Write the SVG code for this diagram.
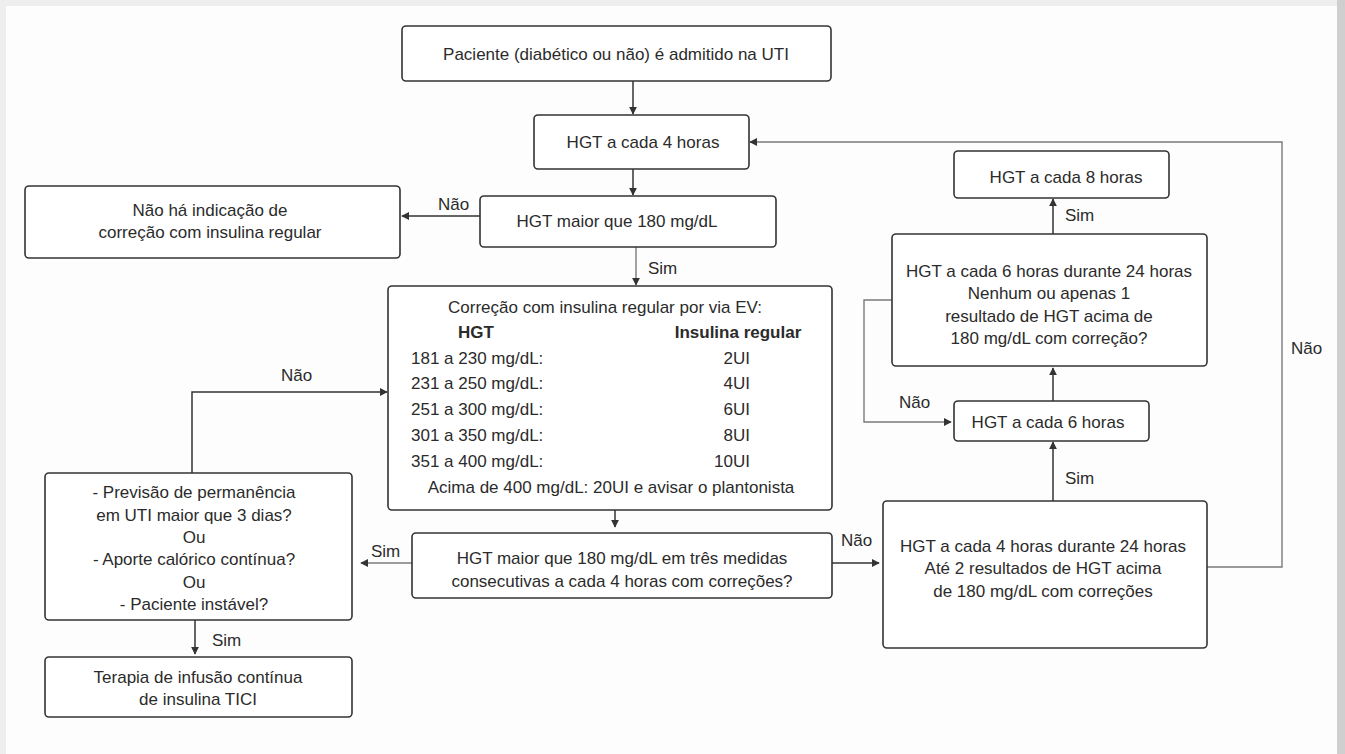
<svg xmlns="http://www.w3.org/2000/svg" width="1345" height="754" viewBox="0 0 1345 754">
<defs>
<style>
.box{fill:#ffffff;stroke:#333333;stroke-width:1.6}
.t{font-family:"Liberation Sans",Arial,sans-serif;font-size:17px;fill:#2b2b2b;text-anchor:middle}
.l{text-anchor:start}
.e{text-anchor:end}
.b{font-weight:bold}
.c{fill:none;stroke:#333333;stroke-width:1.5}
.g{fill:none;stroke:#7a7a7a;stroke-width:1.4}
.lab{font-family:"Liberation Sans",Arial,sans-serif;font-size:17px;fill:#2b2b2b}
</style>
<marker id="ah" viewBox="0 0 10 10" refX="9" refY="5" markerWidth="8" markerHeight="8" markerUnits="userSpaceOnUse" orient="auto">
<path d="M0,0 L10,5 L0,10 z" fill="#333333"/>
</marker>
</defs>
<rect x="0" y="0" width="1345" height="754" fill="#eeeeee"/>
<rect x="6" y="6" width="1331" height="748" fill="#fdfdfd"/>
<rect x="1337" y="0" width="8" height="754" fill="#cfcfcf"/>

<g id="connectors">
<path class="c" d="M633,81 V114" marker-end="url(#ah)"/>
<path class="c" d="M633,169 V195" marker-end="url(#ah)"/>
<path class="c" d="M480,216 H402" marker-end="url(#ah)"/>
<path class="g" d="M636,247 V285" marker-end="url(#ah)"/>
<path class="c" d="M615,510 V527" marker-end="url(#ah)"/>
<path class="g" d="M412,563 H361" marker-end="url(#ah)"/>
<path class="c" d="M832,563 H879" marker-end="url(#ah)"/>
<path class="c" d="M192,473 V392 H387" marker-end="url(#ah)"/>
<path class="c" d="M195,620 V654" marker-end="url(#ah)"/>
<path class="c" d="M1053,501 V442" marker-end="url(#ah)"/>
<path class="c" d="M1053,401 V368" marker-end="url(#ah)"/>
<path class="c" d="M1053,234 V199" marker-end="url(#ah)"/>
<path class="g" d="M892,300 H864 V422 H951" marker-end="url(#ah)"/>
<path class="g" d="M1207,567 H1282 V142 H750" marker-end="url(#ah)"/>
<text class="lab" x="438" y="210">Não</text>
<text class="lab" x="648" y="274">Sim</text>
<text class="lab" x="281" y="381">Não</text>
<text class="lab" x="371" y="557">Sim</text>
<text class="lab" x="212" y="646">Sim</text>
<text class="lab" x="841" y="546">Não</text>
<text class="lab" x="1065" y="484">Sim</text>
<text class="lab" x="899" y="408">Não</text>
<text class="lab" x="1065" y="221">Sim</text>
<text class="lab" x="1291" y="354">Não</text>
</g>

<g id="n-admitido">
<rect class="box" x="402" y="26" width="429" height="55" rx="4"/>
<text class="t" x="616" y="60">Paciente (diabético ou não) é admitido na UTI</text>
</g>
<g id="n-hgt4">
<rect class="box" x="534" y="115" width="215" height="54" rx="4"/>
<text class="t" x="643" y="148">HGT a cada 4 horas</text>
</g>
<g id="n-maior180">
<rect class="box" x="480" y="196" width="296" height="51" rx="4"/>
<text class="t" x="617" y="227">HGT maior que 180 mg/dL</text>
</g>
<g id="n-naoha">
<rect class="box" x="25" y="186" width="375" height="72" rx="4"/>
<text class="t" x="210" y="216">Não há indicação de</text>
<text class="t" x="210" y="238">correção com insulina regular</text>
</g>
<g id="n-correcao">
<rect class="box" x="388" y="286" width="444" height="224" rx="4"/>
<text class="t" x="605" y="313">Correção com insulina regular por via EV:</text>
<text class="t b" x="476" y="338">HGT</text>
<text class="t b" x="738" y="338">Insulina regular</text>
<text class="t l" x="411" y="364">181 a 230 mg/dL:</text>
<text class="t l" x="411" y="389">231 a 250 mg/dL:</text>
<text class="t l" x="411" y="415">251 a 300 mg/dL:</text>
<text class="t l" x="411" y="441">301 a 350 mg/dL:</text>
<text class="t l" x="411" y="467">351 a 400 mg/dL:</text>
<text class="t e" x="750" y="364">2UI</text>
<text class="t e" x="750" y="389">4UI</text>
<text class="t e" x="750" y="415">6UI</text>
<text class="t e" x="750" y="441">8UI</text>
<text class="t e" x="750" y="467">10UI</text>
<text class="t" x="611" y="493">Acima de 400 mg/dL: 20UI e avisar o plantonista</text>
</g>
<g id="n-tres">
<rect class="box" x="412" y="533" width="420" height="65" rx="4"/>
<text class="t" x="622" y="564">HGT maior que 180 mg/dL em três medidas</text>
<text class="t" x="622" y="587">consecutivas a cada 4 horas com correções?</text>
</g>
<g id="n-previsao">
<rect class="box" x="45" y="473" width="307" height="147" rx="4"/>
<text class="t" x="194" y="498">- Previsão de permanência</text>
<text class="t" x="194" y="521">em UTI maior que 3 dias?</text>
<text class="t" x="194" y="543">Ou</text>
<text class="t" x="194" y="565">- Aporte calórico contínua?</text>
<text class="t" x="194" y="588">Ou</text>
<text class="t" x="194" y="610">- Paciente instável?</text>
</g>
<g id="n-tici">
<rect class="box" x="45" y="657" width="307" height="60" rx="4"/>
<text class="t" x="198" y="683">Terapia de infusão contínua</text>
<text class="t" x="198" y="705">de insulina TICI</text>
</g>
<g id="n-hgt8">
<rect class="box" x="954" y="151" width="215" height="47" rx="4"/>
<text class="t" x="1066" y="183">HGT a cada 8 horas</text>
</g>
<g id="n-hgt6x24">
<rect class="box" x="892" y="234" width="315" height="132" rx="4"/>
<text class="t" x="1049" y="277">HGT a cada 6 horas durante 24 horas</text>
<text class="t" x="1049" y="299">Nenhum ou apenas 1</text>
<text class="t" x="1049" y="322">resultado de HGT acima de</text>
<text class="t" x="1049" y="344">180 mg/dL com correção?</text>
</g>
<g id="n-hgt6">
<rect class="box" x="954" y="401" width="195" height="40" rx="4"/>
<text class="t" x="1048" y="428">HGT a cada 6 horas</text>
</g>
<g id="n-hgt4x24">
<rect class="box" x="883" y="501" width="324" height="147" rx="4"/>
<text class="t" x="1043" y="552">HGT a cada 4 horas durante 24 horas</text>
<text class="t" x="1043" y="574">Até 2 resultados de HGT acima</text>
<text class="t" x="1043" y="597">de 180 mg/dL com correções</text>
</g>
</svg>
